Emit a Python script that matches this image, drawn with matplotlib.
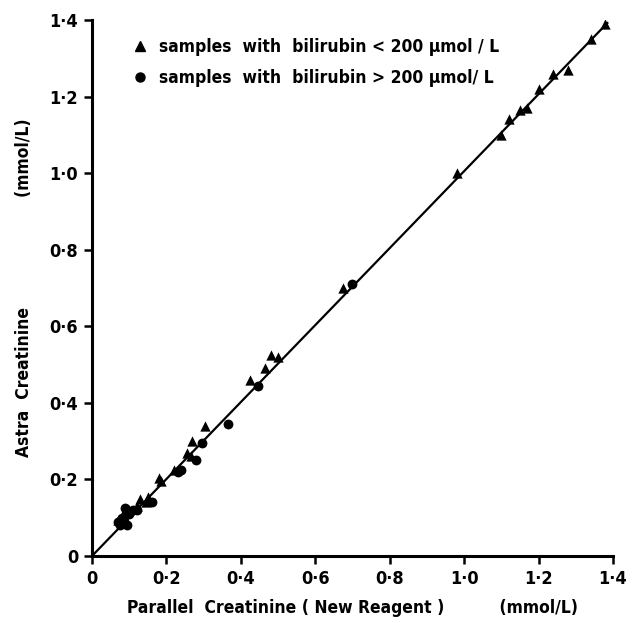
import matplotlib
matplotlib.use("Agg")
import matplotlib.pyplot as plt
from matplotlib.ticker import FixedLocator
from matplotlib.lines import Line2D

plt.rcParams['font.family'] = ['DejaVu Sans']
plt.rcParams['font.weight'] = 'bold'
plt.rcParams['font.stretch'] = 'condensed'

# Data (mmol/L)
tri_x = [1.38, 1.34, 1.28, 1.24, 1.20, 1.17, 1.15, 1.12, 1.10, 0.98,
         0.675, 0.48, 0.50, 0.465, 0.425, 0.305, 0.27, 0.255, 0.265, 0.22,
         0.18, 0.185, 0.15, 0.13, 0.145, 0.10, 0.085, 0.07, 0.09, 0.12]
tri_y = [1.39, 1.35, 1.27, 1.26, 1.22, 1.17, 1.165, 1.14, 1.10, 1.00,
         0.70, 0.525, 0.52, 0.49, 0.46, 0.34, 0.30, 0.27, 0.26, 0.225,
         0.205, 0.195, 0.155, 0.15, 0.14, 0.12, 0.115, 0.095, 0.10, 0.13]
circ_x = [0.70, 0.445, 0.365, 0.295, 0.28, 0.24, 0.23, 0.16, 0.11, 0.07,
          0.075, 0.094, 0.08, 0.10, 0.12, 0.089]
circ_y = [0.71, 0.445, 0.345, 0.295, 0.25, 0.225, 0.22, 0.14, 0.12, 0.089,
          0.08, 0.081, 0.10, 0.11, 0.12, 0.125]
line_x = [0.0, 1.385]
line_slope = 1.005
line_y = [v * line_slope for v in line_x]

ticks = [0, 0.2, 0.4, 0.6, 0.8, 1.0, 1.2, 1.4]
tick_labels = ['0', '0·2', '0·4', '0·6', '0·8', '1·0', '1·2', '1·4']
x_label = 'Parallel  Creatinine ( New Reagent )          (mmol/L)'
y_label = 'Astra  Creatinine                    (mmol/L)'
legend_labels = ['samples  with  bilirubin < 200 \u00b5mol / L',
                 'samples  with  bilirubin > 200 \u00b5mol/ L']

fig = plt.figure(figsize=(6.33, 6.23), dpi=100)
ax = fig.add_axes([0.1453, 0.1075, 0.823, 0.8605])

ax.plot(line_x, line_y, color='black', lw=1.6, zorder=2)
ax.scatter(tri_x, tri_y, marker='^', s=55, color='black', zorder=3, linewidths=0)
ax.scatter(circ_x, circ_y, marker='o', s=50, color='black', zorder=3, linewidths=0)

ax.set_xlim(0, 1.4)
ax.set_ylim(0, 1.4)
ax.xaxis.set_major_locator(FixedLocator(ticks))
ax.yaxis.set_major_locator(FixedLocator(ticks))
ax.set_xticklabels(tick_labels)
ax.set_yticklabels(tick_labels)

for s in ['top', 'right']:
    ax.spines[s].set_visible(False)
for s in ['left', 'bottom']:
    ax.spines[s].set_linewidth(2.2)

ax.tick_params(axis='both', direction='out', length=6, width=1.8,
               labelsize=13, pad=4)
for lab in ax.get_xticklabels() + ax.get_yticklabels():
    lab.set_fontweight('bold')

ax.set_xlabel(x_label, fontsize=12.5, fontweight='bold', labelpad=8)
ax.set_ylabel(y_label, fontsize=12.5, fontweight='bold', labelpad=12)

handles = [Line2D([], [], marker='^', color='black', ls='none', markersize=7),
           Line2D([], [], marker='o', color='black', ls='none', markersize=6.5)]
leg = ax.legend(handles, legend_labels, loc='upper left',
                bbox_to_anchor=(0.045, 0.995), frameon=False,
                prop={'size': 12.5, 'weight': 'bold', 'stretch': 'condensed'},
                handletextpad=0.6, labelspacing=0.75, handlelength=1.0)

fig.savefig('out.png', dpi=100)
